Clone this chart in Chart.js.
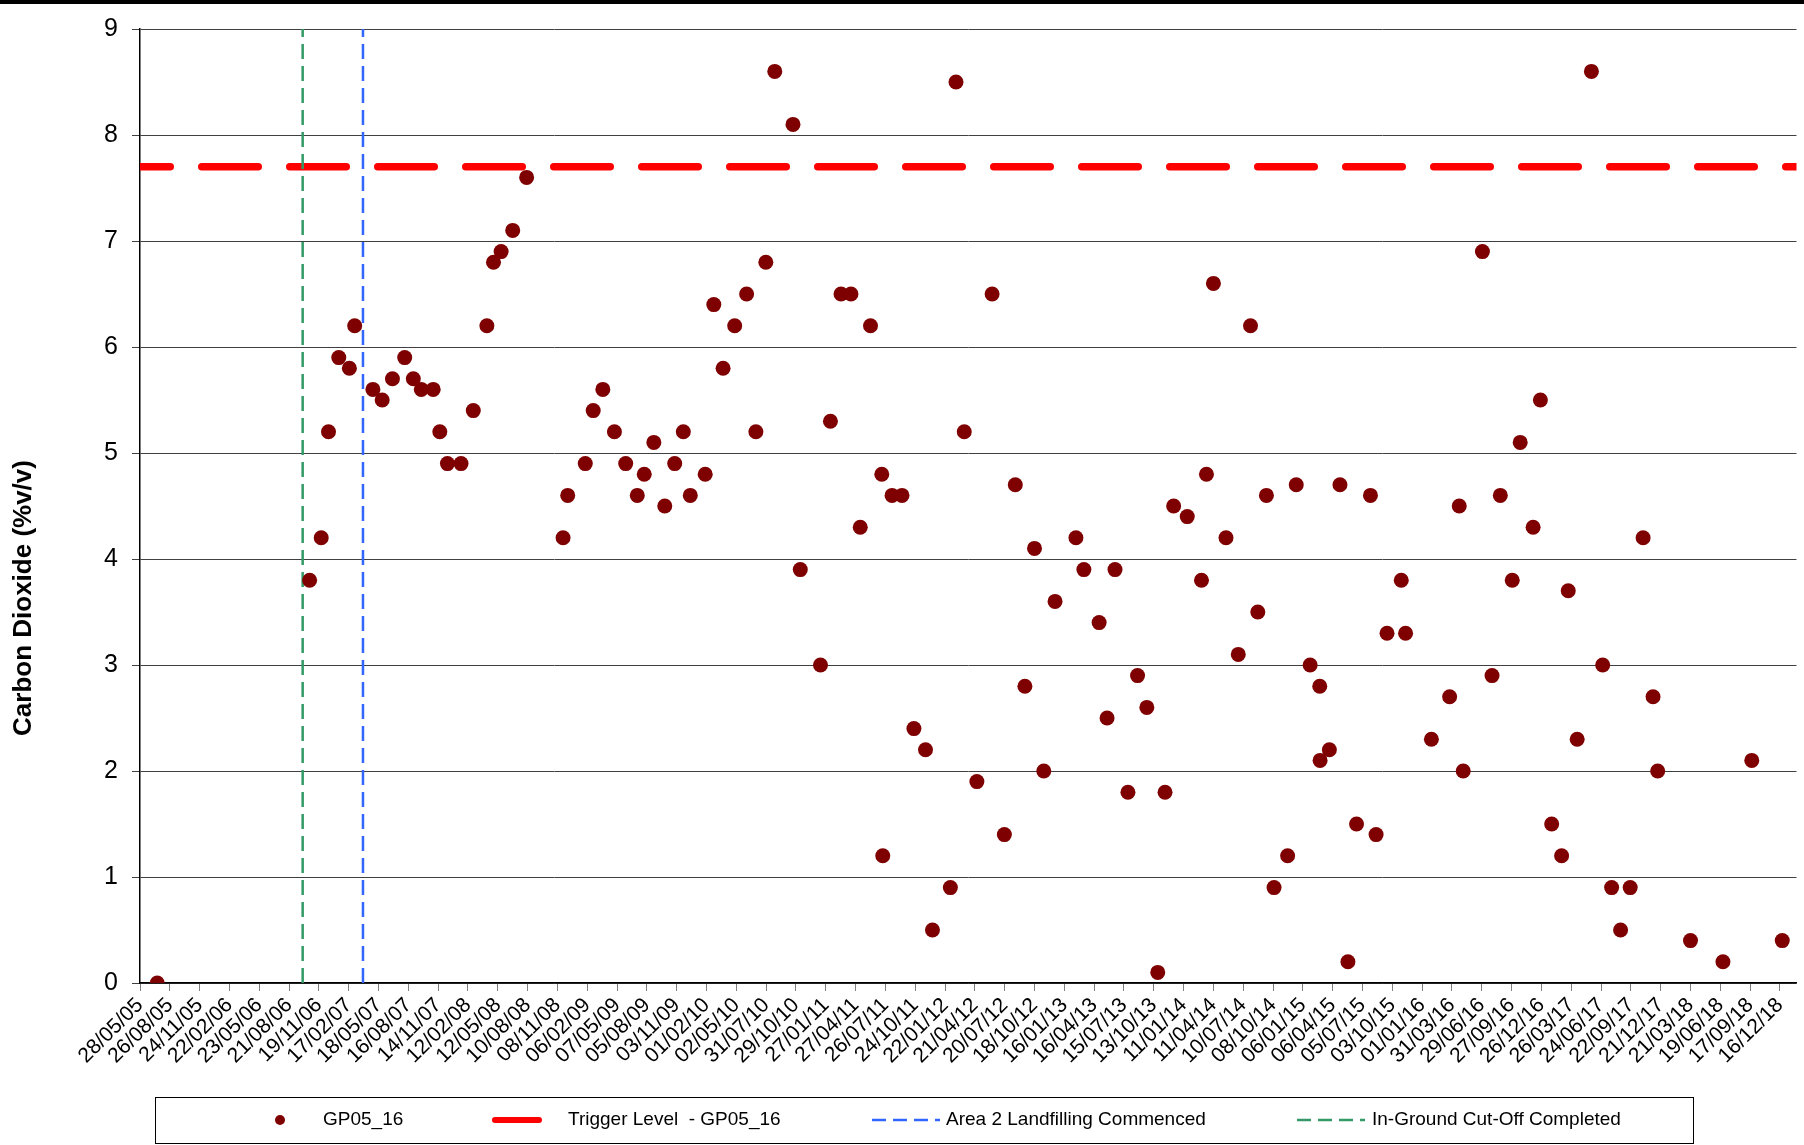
<!DOCTYPE html>
<html>
<head>
<meta charset="utf-8">
<title>GP05_16 Carbon Dioxide</title>
<script src="https://cdn.jsdelivr.net/npm/chart.js@4.4.1/dist/chart.umd.min.js"></script>
<style>
  html, body { margin: 0; padding: 0; background: #fff; }
  #wrap { position: relative; width: 1804px; height: 1145px; }
</style>
</head>
<body>
<div id="wrap"><canvas id="co2Chart" width="1804" height="1145"></canvas></div>
<script>
// monitoring visits for borehole GP05_16
const sampleDates = [
  "2005-07-19",
  "2006-10-22", "2006-11-26", "2006-12-18",
  "2007-01-18", "2007-02-19", "2007-03-07", "2007-05-01", "2007-05-29", "2007-06-29",
  "2007-08-05", "2007-08-31", "2007-09-24", "2007-10-30", "2007-11-19", "2007-12-12",
  "2008-01-22", "2008-02-28", "2008-04-09", "2008-04-29", "2008-05-22", "2008-06-26",
  "2008-08-07", "2008-11-25", "2008-12-09",
  "2009-01-31", "2009-02-24", "2009-03-25", "2009-04-29", "2009-06-02", "2009-07-07",
  "2009-07-28", "2009-08-26", "2009-09-28", "2009-10-28", "2009-11-23", "2009-12-14",
  "2010-01-28", "2010-02-23", "2010-03-23", "2010-04-27", "2010-06-02", "2010-06-30",
  "2010-07-30", "2010-08-26", "2010-10-20", "2010-11-11",
  "2011-01-11", "2011-02-10", "2011-03-14", "2011-04-13", "2011-05-11", "2011-06-11",
  "2011-07-15", "2011-07-18", "2011-08-15", "2011-09-14", "2011-10-20", "2011-11-24", "2011-12-15",
  "2012-02-07", "2012-02-24", "2012-03-20", "2012-04-27", "2012-06-12", "2012-07-19",
  "2012-08-21", "2012-09-19", "2012-10-18", "2012-11-15", "2012-12-19",
  "2013-02-20", "2013-03-16", "2013-05-01", "2013-05-25", "2013-06-18", "2013-07-27",
  "2013-08-25", "2013-09-22", "2013-10-25", "2013-11-16", "2013-12-12",
  "2014-01-22", "2014-03-06", "2014-03-21", "2014-04-11", "2014-05-19", "2014-06-25",
  "2014-08-01", "2014-08-23", "2014-09-18", "2014-10-11", "2014-11-21", "2014-12-17",
  "2015-01-28", "2015-02-26", "2015-02-27", "2015-03-27", "2015-04-28", "2015-05-22",
  "2015-06-17", "2015-07-29", "2015-08-15", "2015-09-17", "2015-10-30", "2015-11-12",
  "2016-01-29", "2016-03-24", "2016-04-22", "2016-05-04", "2016-07-01", "2016-07-30",
  "2016-08-24", "2016-09-29", "2016-10-23", "2016-12-01", "2016-12-23",
  "2017-01-26", "2017-02-25", "2017-03-17", "2017-04-13", "2017-05-26", "2017-06-29",
  "2017-07-26", "2017-08-22", "2017-09-20", "2017-10-29", "2017-11-28", "2017-12-12",
  "2018-03-21", "2018-06-27", "2018-09-22", "2018-12-23"
];

// carbon dioxide, %v/v
const co2Values = [
  0,
  3.8, 4.2, 5.2,
  5.9, 5.8, 6.2, 5.6, 5.5, 5.7, 5.9, 5.7, 5.6, 5.6, 5.2, 4.9,
  4.9, 5.4, 6.2, 6.8, 6.9, 7.1, 7.6, 4.2, 4.6,
  4.9, 5.4, 5.6, 5.2, 4.9, 4.6, 4.8, 5.1, 4.5, 4.9, 5.2, 4.6,
  4.8, 6.4, 5.8, 6.2, 6.5, 5.2, 6.8, 8.6, 8.1, 3.9,
  3.0, 5.3, 6.5, 6.5, 4.3, 6.2, 4.8, 1.2, 4.6, 4.6, 2.4, 2.2, 0.5,
  0.9, 8.5, 5.2, 1.9, 6.5, 1.4, 4.7, 2.8, 4.1, 2.0, 3.6,
  4.2, 3.9, 3.4, 2.5, 3.9, 1.8, 2.9, 2.6, 0.1, 1.8, 4.5,
  4.4, 3.8, 4.8, 6.6, 4.2, 3.1, 6.2, 3.5, 4.6, 0.9, 1.2, 4.7,
  3.0, 2.8, 2.1, 2.2, 4.7, 0.2, 1.5, 4.6, 1.4, 3.3, 3.8, 3.3,
  2.3, 2.7, 4.5, 2.0, 6.9, 2.9, 4.6, 3.8, 5.1, 4.3, 5.5,
  1.5, 1.2, 3.7, 2.3, 8.6, 3.0, 0.9, 0.5, 0.9, 4.2, 2.7, 2.0,
  0.4, 0.2, 2.1, 0.4
];

const triggerLevel = 7.7;
const cutOffDate = "2006-10-01";
const area2Date = "2007-04-01";
const axisStartDate = "2005-05-28";
const axisEndDate = "2019-02-04";

const tickLabels = [
  "28/05/05", "26/08/05", "24/11/05", "22/02/06", "23/05/06", "21/08/06", "19/11/06",
  "17/02/07", "18/05/07", "16/08/07", "14/11/07", "12/02/08", "12/05/08", "10/08/08",
  "08/11/08", "06/02/09", "07/05/09", "05/08/09", "03/11/09", "01/02/10", "02/05/10",
  "31/07/10", "29/10/10", "27/01/11", "27/04/11", "26/07/11", "24/10/11", "22/01/12",
  "21/04/12", "20/07/12", "18/10/12", "16/01/13", "16/04/13", "15/07/13", "13/10/13",
  "11/01/14", "11/04/14", "10/07/14", "08/10/14", "06/01/15", "06/04/15", "05/07/15",
  "03/10/15", "01/01/16", "31/03/16", "29/06/16", "27/09/16", "26/12/16", "26/03/17",
  "24/06/17", "22/09/17", "21/12/17", "21/03/18", "19/06/18", "17/09/18", "16/12/18"
];

const legendLabels = [
  "GP05_16",
  "Trigger Level  - GP05_16",
  "Area 2 Landfilling Commenced",
  "In-Ground Cut-Off Completed"
];
const yAxisTitle = "Carbon Dioxide (%v/v)";

// x runs in whole days from the first tick date
const baseMs = Date.parse(axisStartDate + "T00:00:00Z");
function isoToDay(s) {
  return Math.round((Date.parse(s + "T00:00:00Z") - baseMs) / 86400000);
}
function tickToDay(s) {
  const [d, m, y] = s.split("/").map(Number);
  return Math.round((Date.UTC(2000 + y, m - 1, d) - baseMs) / 86400000);
}

const xMax = isoToDay(axisEndDate);
const cutOffDay = isoToDay(cutOffDate);
const area2Day = isoToDay(area2Date);

const FONT = "'Liberation Sans', Arial, sans-serif";
Chart.defaults.font.family = FONT;
Chart.defaults.color = "#000";

const frameAndLegend = {
  id: "frameAndLegend",
  afterDraw(chart) {
    const ctx = chart.ctx;
    ctx.save();

    // top frame edge
    ctx.fillStyle = "#000";
    ctx.fillRect(0, 0, chart.width, 4);

    // axis title
    ctx.save();
    ctx.translate(24, 598);
    ctx.rotate(-Math.PI / 2);
    ctx.font = "bold 26px " + FONT;
    ctx.textAlign = "center";
    ctx.textBaseline = "middle";
    ctx.fillStyle = "#000";
    ctx.fillText(yAxisTitle, 0, 0);
    ctx.restore();

    // legend box
    ctx.strokeStyle = "#000";
    ctx.lineWidth = 1;
    ctx.strokeRect(155.5, 1097.5, 1538, 46);

    const cy = 1120;
    ctx.font = "19px " + FONT;
    ctx.textBaseline = "middle";
    ctx.textAlign = "left";
    ctx.fillStyle = "#000";

    // GP05_16 marker
    ctx.beginPath();
    ctx.fillStyle = "#7f0000";
    ctx.arc(280, cy, 5, 0, Math.PI * 2);
    ctx.fill();
    ctx.fillStyle = "#000";
    ctx.fillText(legendLabels[0], 323, cy);

    // trigger level sample
    ctx.beginPath();
    ctx.strokeStyle = "#ff0000";
    ctx.lineWidth = 6;
    ctx.lineCap = "round";
    ctx.moveTo(495, cy);
    ctx.lineTo(539, cy);
    ctx.stroke();
    ctx.fillText(legendLabels[1], 568, cy);

    // dashed samples
    ctx.lineCap = "butt";
    ctx.lineWidth = 2.5;
    ctx.setLineDash([14, 7]);
    ctx.beginPath();
    ctx.strokeStyle = "#3366ff";
    ctx.moveTo(872, cy);
    ctx.lineTo(940, cy);
    ctx.stroke();
    ctx.fillText(legendLabels[2], 946, cy);

    ctx.beginPath();
    ctx.strokeStyle = "#339966";
    ctx.moveTo(1297, cy);
    ctx.lineTo(1365, cy);
    ctx.stroke();
    ctx.setLineDash([]);
    ctx.fillText(legendLabels[3], 1372, cy);

    ctx.restore();
  }
};

new Chart(document.getElementById("co2Chart"), {
  type: "scatter",
  data: {
    datasets: [
      {
        label: legendLabels[0],
        data: sampleDates.map((d, i) => ({ x: isoToDay(d), y: co2Values[i] })),
        pointRadius: 7.5,
        pointBackgroundColor: "#7f0000",
        pointBorderColor: "#7f0000",
        pointBorderWidth: 0,
        order: 0,
      },
      {
        label: legendLabels[1],
        data: [{ x: 0, y: triggerLevel }, { x: xMax, y: triggerLevel }],
        showLine: true,
        borderColor: "#ff0000",
        borderWidth: 7.5,
        borderDash: [56.5, 31.5],
        borderDashOffset: 26.25,
        borderCapStyle: "round",
        pointRadius: 0,
        clip: { left: 0, right: 0, top: 5, bottom: 5 },
        order: 3,
      },
      {
        label: legendLabels[2],
        data: [{ x: area2Day, y: 0 }, { x: area2Day, y: 9 }],
        showLine: true,
        borderColor: "#3366ff",
        borderWidth: 2.5,
        borderDash: [15, 7],
        pointRadius: 0,
        order: 2,
      },
      {
        label: legendLabels[3],
        data: [{ x: cutOffDay, y: 0 }, { x: cutOffDay, y: 9 }],
        showLine: true,
        borderColor: "#339966",
        borderWidth: 2.5,
        borderDash: [15, 7],
        pointRadius: 0,
        order: 1,
      },
    ],
  },
  options: {
    responsive: false,
    animation: false,
    events: [],
    layout: { padding: { top: 29, right: 7, left: 0, bottom: 0 } },
    plugins: {
      legend: { display: false },
      tooltip: { enabled: false },
    },
    scales: {
      x: {
        type: "linear",
        min: 0,
        max: xMax,
        afterBuildTicks: (scale) => {
          scale.ticks = tickLabels.map((t) => ({ value: tickToDay(t) }));
        },
        afterFit: (scale) => {
          scale.height = 162;
        },
        ticks: {
          autoSkip: false,
          maxRotation: 45,
          minRotation: 45,
          padding: 2,
          color: "#000",
          font: { size: 21 },
          callback: (value, index) => tickLabels[index],
        },
        grid: {
          drawOnChartArea: false,
          drawTicks: true,
          tickLength: 8,
          color: "#808080",
        },
        border: { color: "#000", width: 1.5 },
      },
      y: {
        min: 0,
        max: 9,
        afterFit: (scale) => {
          scale.width = 140;
        },
        ticks: {
          stepSize: 1,
          padding: 14,
          color: "#000",
          font: { size: 25 },
        },
        grid: { color: "#404040", lineWidth: 1, tickLength: 8 },
        border: { color: "#000", width: 1.5 },
      },
    },
  },
  plugins: [frameAndLegend],
});
</script>
</body>
</html>
